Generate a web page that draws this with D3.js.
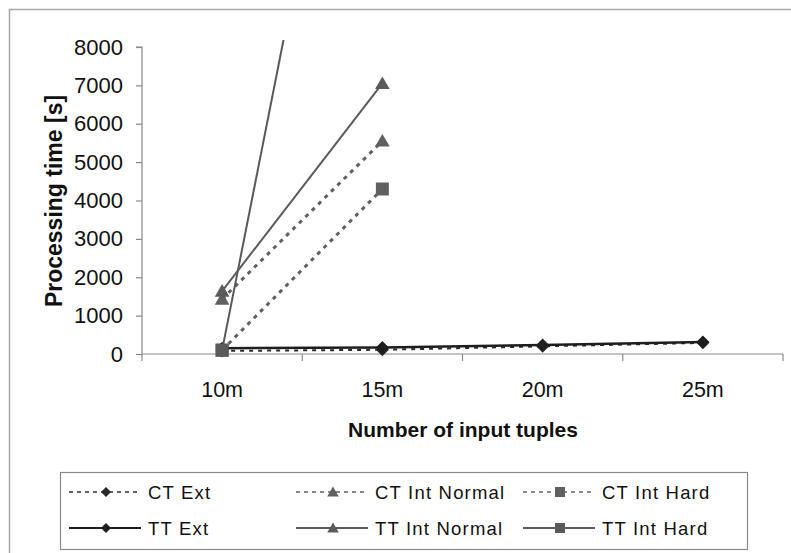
<!DOCTYPE html>
<html><head><meta charset="utf-8">
<script src="https://cdn.jsdelivr.net/npm/d3@7"></script>
<style>body{margin:0;background:#fff}svg{display:block}text{font-family:"Liberation Sans",Arial,sans-serif}</style>
</head><body>
<svg id="c" width="791" height="553"></svg>
<script>
const categories = ["10m","15m","20m","25m"];
const yTicks = [0,1000,2000,3000,4000,5000,6000,7000,8000];
const seriesNames = ["CT Ext","CT Int Normal","CT Int Hard","TT Ext","TT Int Normal","TT Int Hard"];
const ctExt       = [80, 110, 200, 290];
const ctIntNormal = [1430, 5550, null, null];
const ctIntHard   = [100, 4300, null, null];
const ttExt       = [150, 170, 235, 315];
const ttIntNormal = [1640, 7050, null, null];
const ttIntHard   = [100, 21200, null, null];
const xTitle = "Number of input tuples";
const yTitle = "Processing time [s]";

const styles = [
  {color:"#2a2a2a", width:2,   dash:"4,5", marker:"diamond"},
  {color:"#606060", width:3,   dash:"4,5", marker:"triangle"},
  {color:"#606060", width:3,   dash:"4,5", marker:"square"},
  {color:"#1e1e1e", width:2.5, dash:null,  marker:"diamond"},
  {color:"#5a5a5a", width:2,   dash:null,  marker:"triangle"},
  {color:"#5a5a5a", width:2,   dash:null,  marker:"square"}
];
const data = [ctExt, ctIntNormal, ctIntHard, ttExt, ttIntNormal, ttIntHard];

const svg = d3.select("#c");
svg.append("rect").attr("x",9.5).attr("y",9.5).attr("width",900).attr("height",700)
  .attr("fill","none").attr("stroke","#a8a8a8").attr("stroke-width",1.5);

const pLeft=142, pRight=783, pTop=47, pBottom=354;
const x = d3.scaleBand().domain(categories).range([pLeft,pRight]).padding(0);
const xc = c => x(c) + x.bandwidth()/2;
const y = d3.scaleLinear().domain([0,8000]).range([pBottom,pTop]);

svg.append("clipPath").attr("id","clip").append("rect")
  .attr("x",pLeft).attr("y",40).attr("width",pRight-pLeft).attr("height",pBottom-40+10);

const yAxis = svg.append("g").attr("transform",`translate(${pLeft},0)`)
  .call(d3.axisLeft(y).tickValues(yTicks).tickSize(6).tickPadding(13).tickFormat(d3.format("d")));
yAxis.select(".domain").attr("stroke","#8a8a8a").attr("stroke-width",1.2).attr("d",`M-6,${pTop}H0V${pBottom}`);
yAxis.selectAll(".tick line").attr("stroke","#8a8a8a").attr("stroke-width",1.2);
yAxis.selectAll(".tick text").attr("font-size",22).attr("fill","#111").attr("font-family","Liberation Sans, Arial");

const xg = svg.append("g");
xg.append("line").attr("x1",pLeft).attr("x2",pRight).attr("y1",pBottom).attr("y2",pBottom)
  .attr("stroke","#8a8a8a").attr("stroke-width",1.2);
const edges = categories.map(c=>x(c)).concat([pRight]);
xg.selectAll("line.t").data(edges).join("line").attr("class","t")
  .attr("x1",d=>d).attr("x2",d=>d).attr("y1",pBottom).attr("y2",pBottom+7)
  .attr("stroke","#8a8a8a").attr("stroke-width",1.2);
xg.selectAll("text").data(categories).join("text")
  .attr("x",d=>xc(d)).attr("y",397).attr("text-anchor","middle")
  .attr("font-size",21.5).attr("fill","#111").text(d=>d);

svg.append("text").attr("x",463).attr("y",437).attr("text-anchor","middle")
  .attr("font-size",21).attr("font-weight","bold").attr("fill","#111").text(xTitle);
svg.append("text").attr("transform","translate(62,201) rotate(-90)").attr("text-anchor","middle")
  .attr("font-size",23).attr("font-weight","bold").attr("fill","#111").text(yTitle);

function markerPath(type, s){
  if(type==="diamond") return `M0,${-s}L${s},0L0,${s}L${-s},0Z`;
  if(type==="triangle") return `M0,${-s}L${s*1.05},${s*0.8}L${-s*1.05},${s*0.8}Z`;
  return `M${-s},${-s}H${s}V${s}H${-s}Z`;
}

const plot = svg.append("g").attr("clip-path","url(#clip)");
const line = d3.line().defined(d=>d.v!=null).x(d=>xc(d.c)).y(d=>y(d.v));
data.forEach((vals,i)=>{
  const st = styles[i];
  const pts = categories.map((c,j)=>({c, v: vals[j]}));
  plot.append("path").datum(pts).attr("d",line).attr("fill","none")
    .attr("stroke",st.color).attr("stroke-width",st.width)
    .attr("stroke-dasharray",st.dash);
  const sz = st.marker==="diamond"?6.5:(st.marker==="triangle"?7:6.5);
  plot.selectAll(null).data(pts.filter(p=>p.v!=null && p.v<=8200)).join("path")
    .attr("transform",p=>`translate(${xc(p.c)},${y(p.v)})`)
    .attr("d",markerPath(st.marker, sz)).attr("fill",st.color);
});

svg.append("rect").attr("x",60.5).attr("y",472.5).attr("width",687).attr("height",77)
  .attr("fill","#fff").attr("stroke","#8a8a8a").attr("stroke-width",1.2);
const colX = [69, 296, 523];
const rowY = [492, 528];
seriesNames.forEach((n,i)=>{
  const st = styles[i];
  const cx = colX[i%3], cy = rowY[Math.floor(i/3)];
  const g = svg.append("g");
  g.append("line").attr("x1",cx).attr("x2",cx+72).attr("y1",cy).attr("y2",cy)
    .attr("stroke",st.color).attr("stroke-width",st.dash?1.6:2).attr("stroke-dasharray",st.dash?"4,4":null);
  const sz = st.marker==="diamond"?5:(st.marker==="triangle"?5.5:5);
  g.append("path").attr("transform",`translate(${cx+37},${cy})`)
    .attr("d",markerPath(st.marker, sz)).attr("fill",st.color);
  g.append("text").attr("x",cx+79).attr("y",cy+6.5).attr("font-size",18.5)
    .attr("letter-spacing","1.2px").attr("fill","#111").text(n);
});
</script>
</body></html>
